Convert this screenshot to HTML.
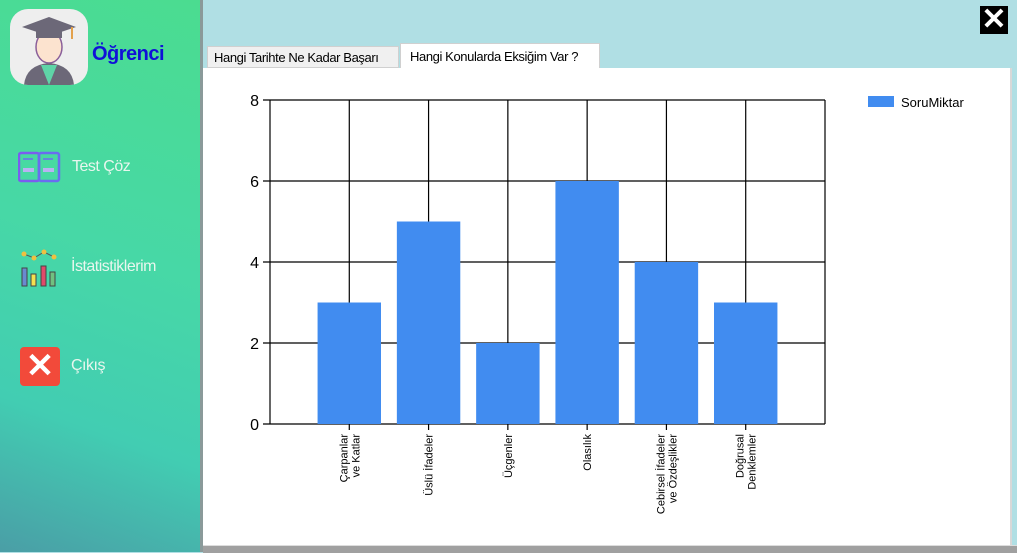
<!DOCTYPE html>
<html><head><meta charset="utf-8"><style>
body{margin:0;width:1017px;height:552px;overflow:hidden;font-family:"Liberation Sans",sans-serif;position:relative;background:#b0dfe4}
#side{position:absolute;left:0;top:0;width:200px;height:552px;background:linear-gradient(200deg,#4bdc90 0%,#47d8a6 45%,#42cdb2 75%,#4a9ea6 100%)}
#sep{position:absolute;left:200px;top:0;width:3px;height:552px;background:#8a9a9a}
.nav{position:absolute;color:#e8f6ee;font-size:16px;letter-spacing:-0.5px}
#panel{position:absolute;left:203px;top:68px;width:807px;height:477px;background:#fff;border-right:2px solid #d8d8d8}
#bottom{position:absolute;left:203px;top:545px;width:814px;height:7px;background:#a0a0a0;border-top:1px solid #ddd}
.tab{position:absolute;font-size:13px;color:#000;line-height:22px;letter-spacing:-0.4px;white-space:nowrap;overflow:hidden;box-sizing:border-box;padding-left:6px}
</style></head><body>
<div id="side">
 <div style="position:absolute;left:10px;top:9px;width:78px;height:76px;border-radius:18px;background:#eee;overflow:hidden">
  <svg width="78" height="76"><path d="M14 76 Q16 56 39 54 Q62 56 64 76Z" fill="#6c6878"/><path d="M31 56 L39 76 L47 56Z" fill="#5fd4a7"/><ellipse cx="39" cy="38" rx="13" ry="16" fill="#fce3cf" stroke="#8a5f9a" stroke-width="1.5"/><path d="M12 18 L39 8 L66 18 L39 27Z" fill="#6c6878"/><rect x="26" y="20" width="26" height="9" fill="#6c6878"/><line x1="62" y1="18" x2="62" y2="30" stroke="#e3a14c" stroke-width="2"/></svg>
 </div>
 <div style="position:absolute;left:92px;top:43px;font-size:20px;font-weight:bold;color:#1010d8;letter-spacing:-0.5px">Öğrenci</div>
 <svg style="position:absolute;left:18px;top:150px" width="44" height="36"><rect x="1" y="3" width="20" height="28" rx="2" fill="none" stroke="#7b5cf0" stroke-width="2.5"/><rect x="21" y="3" width="20" height="28" rx="2" fill="none" stroke="#6a6cf0" stroke-width="2.5"/><rect x="5" y="18" width="11" height="4" fill="#b9b2f3"/><rect x="25" y="18" width="11" height="4" fill="#b9b2f3"/><line x1="5" y1="9" x2="15" y2="9" stroke="#6a6cf0" stroke-width="1.5"/><line x1="25" y1="9" x2="35" y2="9" stroke="#6a6cf0" stroke-width="1.5"/></svg>
 <div class="nav" style="left:72px;top:158px">Test Çöz</div>
 <svg style="position:absolute;left:19px;top:248px" width="42" height="40"><polyline points="5,6 15,10 25,4 35,9" fill="none" stroke="#555" stroke-width="1"/><circle cx="5" cy="6" r="2.5" fill="#f0c040"/><circle cx="15" cy="10" r="2.5" fill="#f0c040"/><circle cx="25" cy="4" r="2.5" fill="#f0c040"/><circle cx="35" cy="9" r="2.5" fill="#f0c040"/><rect x="3" y="20" width="5" height="18" fill="#6a8ad0" stroke="#444"/><rect x="12" y="26" width="5" height="12" fill="#f4e050" stroke="#444"/><rect x="22" y="18" width="5" height="20" fill="#e04a6a" stroke="#444"/><rect x="31" y="24" width="5" height="14" fill="#70c080" stroke="#444"/></svg>
 <div class="nav" style="left:71px;top:258px">İstatistiklerim</div>
 <div style="position:absolute;left:20px;top:347px;width:40px;height:39px;border-radius:4px;background:#f24a3a;color:#fff;font-size:34px;line-height:39px;text-align:center;font-weight:bold">✕</div>
 <div class="nav" style="left:71px;top:357px">Çıkış</div>
</div>
<div id="sep"></div>
<div style="position:absolute;left:980px;top:6px;width:28px;height:28px;background:#000;color:#fff;font-size:30px;line-height:28px;text-align:center;font-weight:bold">✕</div>
<div class="tab" style="left:207px;top:46px;width:192px;height:22px;background:#f0f0f0;border:1px solid #d0d0d0">Hangi Tarihte Ne Kadar Başarı</div>
<div class="tab" style="left:400px;top:43px;width:200px;height:25px;line-height:25px;background:#fff;border:1px solid #d0d0d0;border-bottom:none;padding-left:9px">Hangi Konularda Eksiğim Var ?</div>
<div id="panel"></div>
<div id="bottom"></div>
<svg id="chart" width="1017" height="552" style="position:absolute;left:0;top:0" font-family="Liberation Sans, sans-serif"></svg>
<script>
const categories=[["Çarpanlar","ve Katlar"],["Üslü İfadeler"],["Üçgenler"],["Olasılık"],["Cebirsel İfadeler","ve Özdeşlikler"],["Doğrusal","Denklemler"]];
const values=[3,5,2,6,4,3];
const yTicks=[0,2,4,6,8];
const seriesName="SoruMiktar";
const svg=document.getElementById('chart');const NS="http://www.w3.org/2000/svg";
const L=270,R=825,T=100,B=424,yMax=8,xMax=categories.length+1;
const X=v=>L+(R-L)*v/xMax, Y=v=>B-(B-T)*v/yMax;
function mk(t,a){const e=document.createElementNS(NS,t);for(const k in a)e.setAttribute(k,a[k]);svg.appendChild(e);return e;}
yTicks.forEach(t=>{const g=mk('line',{x1:L-7,x2:R,y1:Y(t),y2:Y(t),stroke:'#000','stroke-width':1.2});


const tx=mk('text',{x:L-11,y:Y(t)+6,'text-anchor':'end','font-size':16,fill:'#000'});tx.textContent=t;

});
for(let i=0;i<=xMax;i++){const g=mk('line',{x1:X(i),x2:X(i),y1:T,y2:B+(i>0&&i<xMax?6:0),stroke:'#000','stroke-width':1.2});

}
const bw=(R-L)/xMax*0.8;
values.forEach((v,i)=>{const r=mk('rect',{x:X(i+1)-bw/2,y:Y(v),width:bw,height:B-Y(v),fill:'#418cf0'});


const cx=X(i+1),lines=categories[i],n=lines.length;
lines.forEach((s,j)=>{const tx=mk('text',{transform:`translate(${cx+4+(j-(n-1)/2)*12},${B+10}) rotate(-90)`,'text-anchor':'end','font-size':11,fill:'#000'});tx.textContent=s;

});});
const lr=mk('rect',{x:868,y:96,width:26,height:11,fill:'#418cf0'});


const lt=mk('text',{x:901,y:107,'font-size':13,fill:'#000'});lt.textContent=seriesName;


</script>
</body></html>
